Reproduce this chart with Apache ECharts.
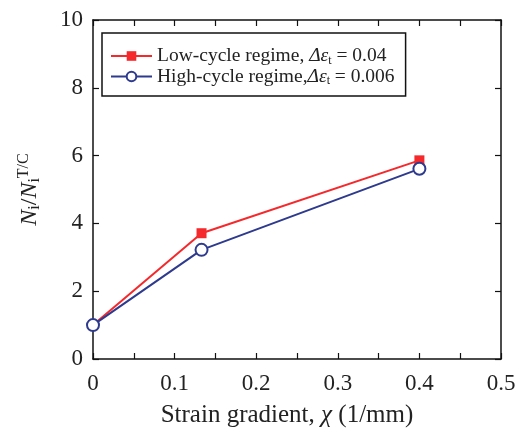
<!DOCTYPE html>
<html>
<head>
<meta charset="utf-8">
<script src="https://cdn.jsdelivr.net/npm/echarts@6/dist/echarts.min.js"></script>
<style>html,body{margin:0;padding:0;background:#fff}#c{width:517px;height:428px}</style>
</head>
<body>
<div id="c"></div>
<script>
var strainGradient = [0, 0.133, 0.4];
var lowCycle = [1.0, 3.71, 5.86];
var highCycle = [1.0, 3.22, 5.61];
var lowName = 'Low-cycle regime';
var highName = 'High-cycle regime';

var F = '"Liberation Serif", "Times New Roman", serif';
var chart = echarts.init(document.getElementById('c'));
var legRich = {
  a: {fontFamily: F, fontSize: 19.5, color: '#222'},
  i: {fontFamily: F, fontSize: 19.5, fontStyle: 'italic', color: '#222'},
  s: {fontFamily: F, fontSize: 12, color: '#222', verticalAlign: 'bottom', padding: [9, 0, 0, 0]}
};
var axisLine = {show: true, onZero: false, lineStyle: {color: '#111', width: 1.5}};
var tick = {show: true, inside: true, length: 6, lineStyle: {color: '#111', width: 1.2}};
chart.setOption({
  animation: false,
  backgroundColor: '#fff',
  grid: {left: 93, right: 16, top: 20, bottom: 69, outerBoundsMode: 'none', containLabel: false},
  legend: {
    left: 102, top: 33, orient: 'vertical',
    padding: [13, 11, 9, 8],
    itemGap: 0,
    itemWidth: 41, itemHeight: 12,
    borderColor: '#111', borderWidth: 1.5,
    backgroundColor: '#fff',
    data: [lowName, highName],
    formatter: function (n) {
      if (n === lowName) return '{a|Low-cycle regime, }{i|Δε}{s|t}{a| = 0.04}';
      return '{a|High-cycle regime,}{i|Δε}{s|t}{a| = 0.006}';
    },
    textStyle: {rich: legRich}
  },
  xAxis: [{
    type: 'value', min: 0, max: 0.5, interval: 0.1,
    axisLine: axisLine, axisTick: tick,
    minorTick: {show: true, splitNumber: 2, length: 6, lineStyle: {color: '#111', width: 1.2}},
    splitLine: {show: false},
    axisLabel: {fontFamily: F, fontSize: 23, color: '#222', margin: 13,
      formatter: function (v) { return v === 0 ? '0' : String(Math.round(v * 10) / 10); }},
    name: '{a|Strain gradient, }{i|χ}{a| (1/mm)}',
    nameLocation: 'middle', nameGap: 44,
    nameTextStyle: {padding: [0, 20, 0, 0], rich: {a: {fontFamily: F, fontSize: 25, color: '#222'}, i: {fontFamily: F, fontSize: 25, fontStyle: 'italic', color: '#222'}}}
  }, {
    type: 'value', position: 'top', min: 0, max: 0.5, interval: 0.1,
    axisLine: axisLine, axisTick: tick,
    minorTick: {show: true, splitNumber: 2, length: 6, lineStyle: {color: '#111', width: 1.2}},
    splitLine: {show: false}, axisLabel: {show: false}
  }],
  yAxis: [{
    type: 'value', min: 0, max: 10, interval: 2,
    axisLine: axisLine, axisTick: tick,
    splitLine: {show: false},
    axisLabel: {fontFamily: F, fontSize: 23, color: '#222', margin: 10},
    name: '{i|N}{s|i}{a|/}{i|N}{s|i}{p|T/C}',
    nameLocation: 'middle', nameGap: 50, nameRotate: 90,
    nameTextStyle: {rich: {
      a: {fontFamily: F, fontSize: 24, color: '#222'},
      i: {fontFamily: F, fontSize: 24, fontStyle: 'italic', color: '#222'},
      s: {fontFamily: F, fontSize: 16, color: '#222', verticalAlign: 'bottom', padding: [11, 0, 0, 0]},
      p: {fontFamily: F, fontSize: 16, color: '#222', verticalAlign: 'top', padding: [0, 0, 11, 0]}
    }}
  }, {
    type: 'value', position: 'right', min: 0, max: 10, interval: 2,
    axisLine: axisLine, axisTick: tick,
    splitLine: {show: false}, axisLabel: {show: false}
  }],
  series: [{
    name: lowName, type: 'line',
    data: strainGradient.map(function (x, k) { return [x, lowCycle[k]]; }),
    symbol: 'rect', symbolSize: 10, showAllSymbol: true,
    itemStyle: {color: '#f5282b'},
    lineStyle: {color: '#f5282b', width: 2},
    z: 2
  }, {
    name: highName, type: 'line',
    data: strainGradient.map(function (x, k) { return [x, highCycle[k]]; }),
    symbol: 'circle', symbolSize: 12, showAllSymbol: true,
    itemStyle: {color: '#fff', borderColor: '#2d3a8e', borderWidth: 2},
    lineStyle: {color: '#2d3a8e', width: 2},
    z: 3
  }]
});
</script>
</body>
</html>
